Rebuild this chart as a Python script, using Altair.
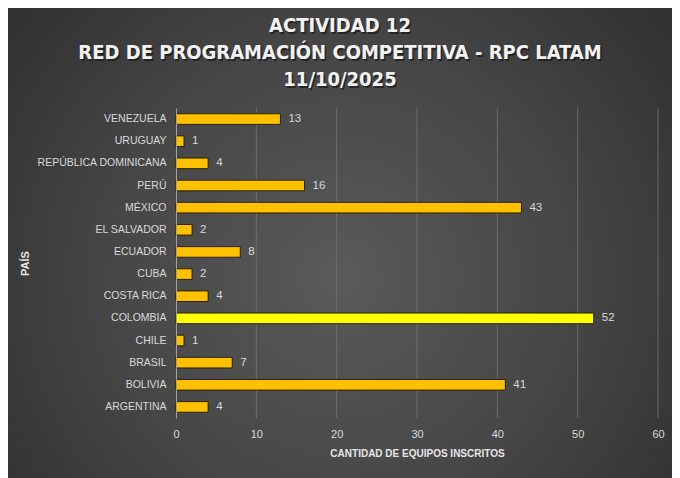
import altair as alt
import pandas as pd

paises = [
    "VENEZUELA", "URUGUAY", "REPÚBLICA DOMINICANA", "PERÚ", "MÉXICO",
    "EL SALVADOR", "ECUADOR", "CUBA", "COSTA RICA", "COLOMBIA",
    "CHILE", "BRASIL", "BOLIVIA", "ARGENTINA",
]
equipos = [13, 1, 4, 16, 43, 2, 8, 2, 4, 52, 1, 7, 41, 4]
destacado = "COLOMBIA"
ticks_x = [0, 10, 20, 30, 40, 50, 60]
titulo = ["ACTIVIDAD 12", "RED DE PROGRAMACIÓN COMPETITIVA - RPC LATAM", "11/10/2025"]

W, H = 482, 310
PAD = {"left": 168, "top": 100, "right": 14, "bottom": 60}
FONT = "Liberation Sans"

df = pd.DataFrame({"pais": paises, "equipos": equipos})
df["grupo"] = ["max" if p == destacado else "resto" for p in paises]

# fondo con degradado radial que cubre todo el lienzo
fondo = alt.Chart(pd.DataFrame({"a": [0]})).mark_rect(
    clip=False,
    color=alt.Gradient(
        gradient="radial",
        stops=[
            alt.GradientStop(color="#5a5a5a", offset=0),
            alt.GradientStop(color="#464646", offset=0.45),
            alt.GradientStop(color="#262626", offset=1),
        ],
        x1=0.5, y1=0.55, r1=0, x2=0.5, y2=0.55, r2=0.75,
    ),
).encode(
    x=alt.value(-PAD["left"] - 10),
    x2=alt.value(W + PAD["right"] + 10),
    y=alt.value(-PAD["top"] - 10),
    y2=alt.value(H + PAD["bottom"] + 10),
)

rejilla = alt.Chart(pd.DataFrame({"t": ticks_x[1:]})).mark_rule(
    color="#7a7a7a", strokeWidth=1, opacity=0.7
).encode(x=alt.X("t:Q", scale=alt.Scale(domain=[0, 60], nice=False)))

y_enc = alt.Y(
    "pais:N", sort=paises, title="PAÍS",
    scale=alt.Scale(paddingInner=0.52, paddingOuter=0.26),
    axis=alt.Axis(
        labelColor="#d9d9d9", labelFont=FONT, labelFontSize=10.5,
        labelPadding=10, ticks=False, domainColor="#a0a0a0", domainWidth=1,
        titleColor="#e6e6e6", titleFont=FONT, titleFontSize=11,
        titleFontWeight="bold", titleX=-146, titleAlign="center",
        grid=False, zindex=1,
    ),
)
x_enc = alt.X(
    "equipos:Q", title="CANTIDAD DE EQUIPOS INSCRITOS",
    scale=alt.Scale(domain=[0, 60], nice=False),
    axis=alt.Axis(
        values=ticks_x, labelColor="#d9d9d9", labelFont=FONT, labelFontSize=11,
        labelPadding=10, labelFlush=False, ticks=False, domain=False,
        grid=False, zindex=1, titleColor="#e6e6e6", titleFont=FONT,
        titleFontSize=10, titleFontWeight="bold", titlePadding=9,
    ),
)

barras = alt.Chart(df).mark_bar(stroke="#2a2200", strokeWidth=1).encode(
    x=x_enc,
    y=y_enc,
    color=alt.Color(
        "grupo:N", legend=None,
        scale=alt.Scale(domain=["max", "resto"], range=["#ffff00", "#ffc000"]),
    ),
)

etiquetas = alt.Chart(df).mark_text(
    align="left", baseline="middle", dx=8, color="#d9d9d9",
    font=FONT, fontSize=11.5,
).encode(x="equipos:Q", y=alt.Y("pais:N", sort=paises), text="equipos:Q")

estilo_titulo = dict(
    text=titulo, align="center", baseline="top", font="DejaVu Sans Condensed",
    fontSize=20, fontWeight="bold", lineHeight=27,
)
sombra = alt.Chart(pd.DataFrame({"a": [0]})).mark_text(
    color="#111111", opacity=0.6, **estilo_titulo
).encode(x=alt.value(165.5), y=alt.value(-90.5))
encabezado = alt.Chart(pd.DataFrame({"a": [0]})).mark_text(
    color="#f2f2f2", **estilo_titulo
).encode(x=alt.value(164), y=alt.value(-92))

chart = (fondo + rejilla + barras + etiquetas + sombra + encabezado).properties(
    width=W,
    height=H,
    padding=PAD,
    autosize=alt.AutoSizeParams(type="none"),
).configure_view(stroke=None).configure(background="#262626")

chart.save("out.html", embed_options={"renderer": "svg", "actions": False})
